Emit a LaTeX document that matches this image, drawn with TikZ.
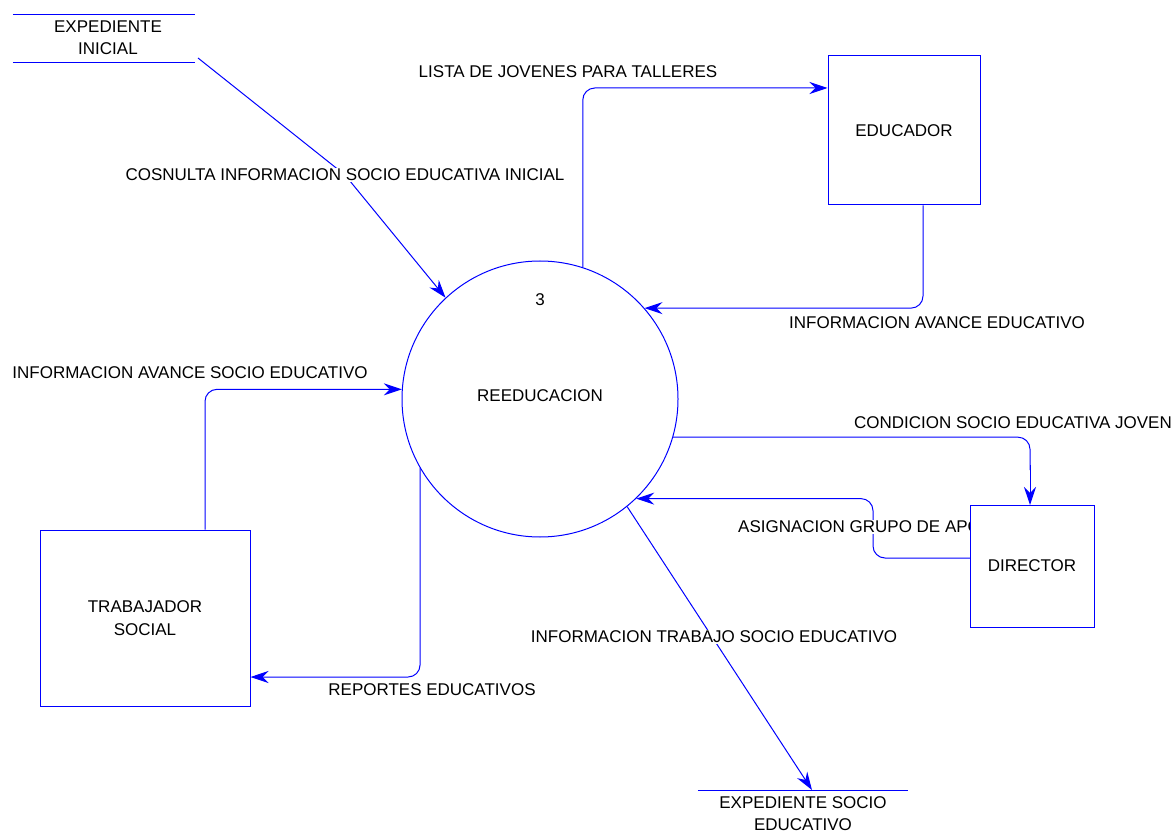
\documentclass[tikz,border=0pt]{standalone}
\usepackage{fontspec}
\setmainfont{Liberation Sans}
\usetikzlibrary{arrows.meta}
\definecolor{dblue}{RGB}{0,0,255}
\tikzset{
  flow/.style={draw=dblue, line width=1pt, rounded corners=12pt, -{Stealth[length=18pt,width=12pt,inset=6pt]}},
  plain/.style={draw=dblue, line width=1pt, rounded corners=12pt},
  entity/.style={draw=dblue, line width=1pt, fill=white, rectangle, align=center, inner sep=0pt},
  proc/.style={draw=dblue, line width=1pt, circle, inner sep=0pt, minimum size=276pt},
  lbl/.style={font=\fontsize{17}{20}\selectfont, inner sep=1pt, align=center},
  lblw/.style={lbl, fill=white},
  store/.style={draw=none, align=center, font=\fontsize{17}{22}\selectfont},
}
\begin{document}
\begin{tikzpicture}[x=1pt,y=-1pt]
\useasboundingbox (0,0) rectangle (1176,834);
% process
\node[proc] (c) at (540,399) {};
\node[lbl] (cnum) at (540,300) {3};
\node[lbl] (cname) at (540,396) {REEDUCACION};
% entities
\node[entity, minimum width=152pt, minimum height=149pt, font=\fontsize{17}{20}\selectfont] (edu) at (904,130.5) {EDUCADOR};
\node[entity, minimum width=210pt, minimum height=176pt, font=\fontsize{17}{23}\selectfont] (ts) at (145,618) {TRABAJADOR\\SOCIAL};
% stores
\node[store, minimum width=182pt, minimum height=47pt] (ei) at (104,38.5) {};
\node[store] (eit) at (108,38) {EXPEDIENTE\\INICIAL};
\draw[dblue, line width=1pt] (ei.north west) -- (ei.north east);
\draw[dblue, line width=1pt] (ei.south west) -- (ei.south east);
\node[store, minimum width=210pt, minimum height=47pt, anchor=north] (es) at (803,790) {EXPEDIENTE SOCIO\\EDUCATIVO};
\draw[dblue, line width=1pt] (es.north west) -- (es.north east);
% connectors
\coordinate (eiout) at (198,58);
\coordinate (k1) at (345,175);
\draw[flow, rounded corners=0pt] (eiout) -- (k1) -- (c.133);
\node[lblw] (l1) at (k1) {COSNULTA INFORMACION SOCIO EDUCATIVA INICIAL};

\draw[flow] (c.72) |- (edu.west |- 0,88);
\node[lbl] (l2) at (568,72) {LISTA DE JOVENES PARA TALLERES};

\draw[flow] ([xshift=19pt]edu.south) |- (c.41);
\node[lbl] (l3) at (937,323) {INFORMACION AVANCE EDUCATIVO};

\draw[flow] ([xshift=60pt]ts.north) |- (c.176);
\node[lbl] (l4) at (190,373) {INFORMACION AVANCE SOCIO EDUCATIVO};

\draw[flow] (c.210) |- ([yshift=-59pt]ts.east);
\node[lbl] (l5) at (432,690) {REPORTES EDUCATIVOS};

\node[lbl, anchor=east] (l6) at (1173,423) {CONDICION SOCIO EDUCATIVA JOVEN};

\coordinate (esin) at (812,790);
\draw[flow, rounded corners=0pt] (c.-51.4) -- (esin);
\node[lblw] (l8) at (714,637) {INFORMACION TRABAJO SOCIO EDUCATIVO};

\coordinate (aj) at (873,530);
\coordinate (dirc) at (1032,566);
\draw[plain] (c.-16) -| (1030,470);
\draw[flow, rounded corners=0pt] (1030,465) -- (1030,505);
\draw[plain] (970,558) -| (aj);
\draw[flow] (aj) |- (c.-46.5);
\node[lblw, anchor=west] (l7) at (737,527) {ASIGNACION GRUPO DE APOYO};
\node[entity, minimum width=124pt, minimum height=122pt, font=\fontsize{17}{20}\selectfont] (dir) at (dirc) {DIRECTOR};
\end{tikzpicture}
\end{document}
